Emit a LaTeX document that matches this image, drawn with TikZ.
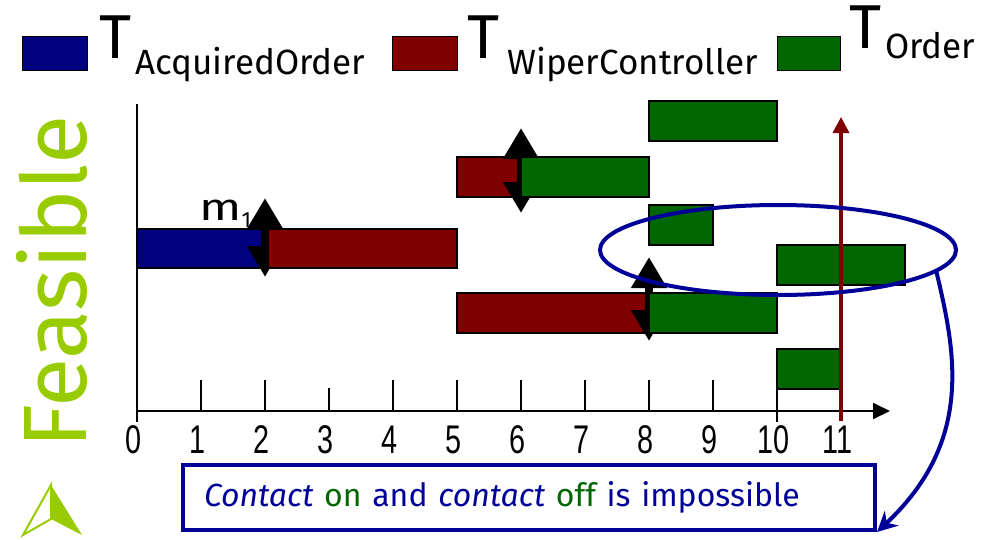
\documentclass[tikz,border=0pt]{standalone}
\usepackage{fontspec}
\setmainfont{Fira Sans}
\newfontfamily\numfont[FakeStretch=0.72]{Liberation Sans}
\usetikzlibrary{arrows.meta,shapes.geometric}
\definecolor{dblue}{RGB}{0,0,128}
\definecolor{dred}{RGB}{128,0,0}
\definecolor{dgreen}{RGB}{0,102,0}
\definecolor{eblue}{RGB}{0,0,153}
\definecolor{ygreen}{RGB}{153,204,0}
\tikzset{
  bar/.style={draw=black, line width=1.2pt},
  legbox/.style={draw=black, line width=1pt},
  dblarrow/.style={line width=8pt, {Triangle[length=31pt,width=34pt]}-{Triangle[length=31pt,width=34pt]}},
  tick/.style={line width=1.3pt},
  numlab/.style={font=\numfont\fontsize{40}{40}\selectfont, inner sep=0pt},
  leg/.style={anchor=base west, inner sep=0pt, font=\fontsize{62}{62}\selectfont},
}
\newcommand{\subtxt}[2]{\raisebox{#1}{\fontsize{35}{35}\selectfont #2}}
\begin{document}
\begin{tikzpicture}[x=1pt,y=-1pt]
\useasboundingbox (0,0) rectangle (1001,539);
% legend
\path[legbox, fill=dblue] (22,36) rectangle (87,70);
\path[legbox, fill=dred] (392,36) rectangle (457,70);
\path[legbox, fill=dgreen] (777,36) rectangle (840,70);
\node[leg] (l1) at (99,58) {T\hspace{4pt}\subtxt{-16pt}{AcquiredOrder}};
\node[leg] (l2) at (467,58) {T\hspace{8pt}\subtxt{-16pt}{WiperController}};
\node[leg] (l3) at (849,48) {T\hspace{4pt}\subtxt{-10pt}{Order}};
% Feasible
\node[rotate=90, anchor=base, inner sep=0pt, text=ygreen, font=\fontsize{90}{90}\selectfont] (feas) at (86,282) {Feasible};
% logo
\draw[ygreen, line width=2pt, line join=miter] (51,485) -- (23,535) -- (51,519) -- cycle;
\fill[ygreen] (51,485) -- (51,519) -- (82,535) -- cycle;
% axes
\draw[line width=1.8pt] (137,104) -- (137,422);
\draw[line width=1.8pt, -{Triangle[length=17pt,width=16pt]}] (137,411) -- (890,411);
\begin{scope}[xshift=137pt, x=64pt]
  \foreach \i in {1,2,4,5,6,7,8,9} { \draw[tick] (\i,380) -- (\i,411); }
  \draw[tick] (3,388) -- (3,411);
  \draw[tick] (10,389) -- (10,422);
  \foreach \i in {0,...,11} { \node[numlab] (n\i) at (\i-0.05,440) {\i}; }
  % bars
  \path[bar, fill=dgreen] (8,101) rectangle (10,141);
  \path[bar, fill=dred] (5,157) rectangle (6,197);
  \draw[dblarrow] (6,128) -- (6,213);
  \path[bar, fill=dgreen] (6,157) rectangle (8,197);
  \path[bar, fill=dgreen] (8,205) rectangle (9,245);
  \path[bar, fill=dblue] (0,229) rectangle (2,268);
  \draw[dblarrow] (2,198) -- (2,277);
  \path[bar, fill=dred] (2.06,229) rectangle (5,268);
  \path[bar, fill=dgreen] (10,245) rectangle (12,285);
  \path[bar, fill=dred] (5,293) rectangle (8,333);
  \draw[dblarrow] (8,257) -- (8,341);
  \path[bar, fill=dgreen] (8,293) rectangle (10,333);
  \path[bar, fill=dgreen] (10,349) rectangle (11,389);
  % deadline
  \draw[dred, line width=3.5pt, -{Triangle[length=16pt,width=16pt]}] (11,421) -- (11,117);
\end{scope}
\node[anchor=base west, inner sep=0pt, font=\fontsize{38}{38}\selectfont] (m1) at (199,220) {\scalebox{1.3}[1]{m}\raisebox{-7pt}{\fontsize{22}{22}\selectfont 1}};
% ellipse and callout
\node[ellipse, draw=eblue, line width=4pt, minimum width=356pt, minimum height=90pt, inner sep=0pt] (ell) at (778,250) {};
\coordinate (cstart) at (936,270);
\node[draw=eblue, line width=4pt, minimum width=692pt, minimum height=65pt, text width=650pt, align=left, inner sep=0pt, text=eblue, font=\fontsize{32}{32}\selectfont] (callout) at (529,497.5) {\textit{Contact} {\color{dgreen}on} and \textit{contact} {\color{dgreen}off} is impossible};
\draw[eblue, line width=4pt, -{Stealth[length=20pt,width=20pt]}] (cstart) .. controls (955,350) and (975,440) .. (callout.south east);
\end{tikzpicture}
\end{document}
